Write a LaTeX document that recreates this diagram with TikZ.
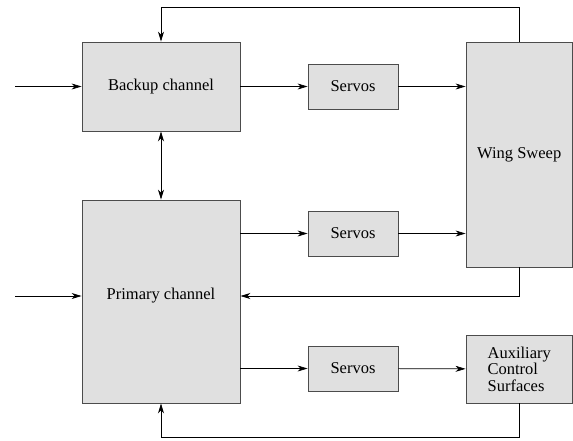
\documentclass[tikz,border=0pt]{standalone}
\usepackage{fontspec}
\setmainfont{Liberation Serif}
\newfontfamily\timesf{Liberation Serif}
\usetikzlibrary{arrows.meta}
\begin{document}
\begin{tikzpicture}[x=1pt,y=-1pt,
 blk/.style={draw=black!70, fill=black!12, line width=0.9pt, inner sep=0pt, font=\timesf\fontsize{16.5}{16.5}\selectfont},
 lbl/.style={font=\timesf\fontsize{16.5}{16.5}\selectfont, inner sep=0pt},
 conn/.style={-{Stealth[length=10pt,width=6pt,inset=3pt]}, line width=0.7pt},
 dconn/.style={{Stealth[length=10pt,width=6pt,inset=3pt]}-{Stealth[length=10pt,width=6pt,inset=3pt]}, line width=0.7pt},
]
\useasboundingbox (0,0) rectangle (573,440);
\node[blk, minimum width=158pt, minimum height=89pt] (backup) at (161,86.5) {Backup channel};
\node[blk, minimum width=158pt, minimum height=203pt] (primary) at (161,301.5) {};
\node[lbl] (primarytext) at (161,296) {Primary channel};
\node[blk, minimum width=90pt, minimum height=45pt] (servo1) at (353,86.5) {Servos};
\node[blk, minimum width=90pt, minimum height=45pt] (servo2) at (353,233.5) {Servos};
\node[blk, minimum width=90pt, minimum height=45pt] (servo3) at (353,368.5) {Servos};
\node[blk, minimum width=106.5pt, minimum height=225pt] (wing) at (519.25,154.5) {Wing Sweep};
\node[blk, minimum width=106.5pt, minimum height=68pt, align=left] (aux) at (519.25,369) {Auxiliary\\Control\\Surfaces};
\coordinate (in1) at (15,86.5);
\coordinate (in2) at (15,296);
\draw[conn] (in1) -- (in1 -| backup.west);
\draw[conn] (in2) -- (in2 -| primary.west);
\draw[conn] (backup) -- (servo1);
\draw[conn] (servo1) -- (servo1 -| wing.west);
\draw[conn] (primary.east |- servo2) -- (servo2);
\draw[conn] (servo2) -- (servo2 -| wing.west);
\draw[conn] (primary.east |- servo3) -- (servo3);
\draw[conn] (servo3) -- (aux);
\draw[dconn] (backup) -- (primary);
\draw[conn] (wing.north) -- ++(0,-34) -| (backup.north);
\draw[conn] (wing.south) |- (primarytext -| primary.east);
\draw[conn] (aux.south) -- ++(0,34) -| (primary.south);
\end{tikzpicture}
\end{document}
